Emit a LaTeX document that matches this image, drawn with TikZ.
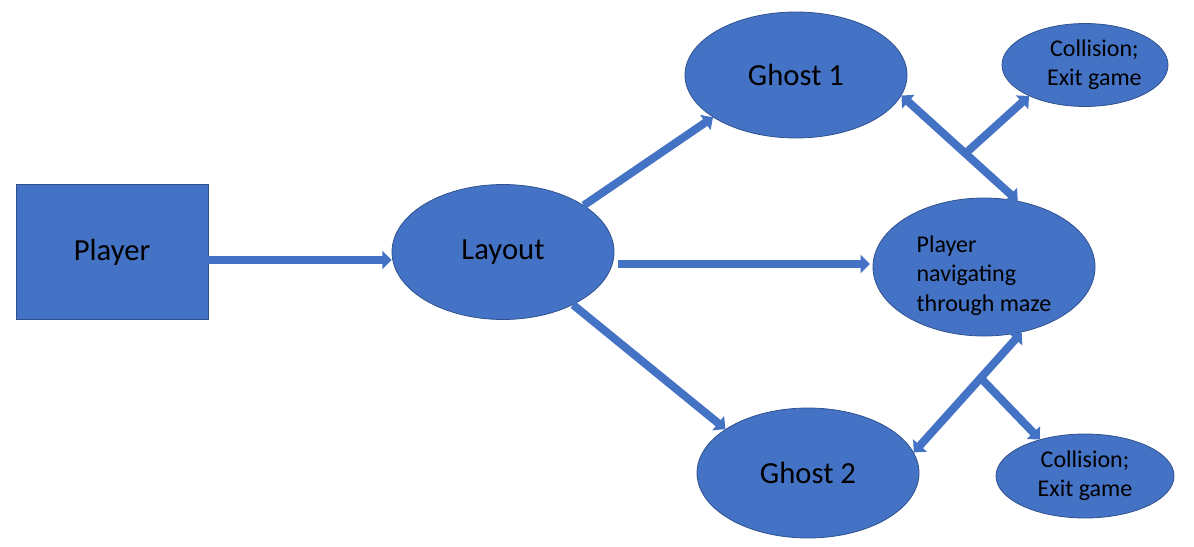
\documentclass[tikz,border=0pt]{standalone}
\usepackage{fontspec}
\setmainfont{Carlito}
\usetikzlibrary{shapes.geometric,arrows.meta}
\definecolor{boxblue}{HTML}{4472C4}
\definecolor{lineblue}{HTML}{2F528F}
\tikzset{
    block/.style={
           rectangle,
           draw=lineblue, fill=boxblue, line width=0.6pt,
           minimum width=144pt,
           minimum height=101.25pt,
           inner sep=0pt,
           font=\fontsize{23}{28}\selectfont
           },
    blob/.style={
           ellipse,
           draw=lineblue, fill=boxblue, line width=0.6pt,
           inner sep=0pt,
           text centered,
           anchor=center,
           font=\fontsize{23}{28}\selectfont
           },
    smallblob/.style={
           blob,
           font=\fontsize{18}{22}\selectfont
           },
    pipe/.style={
           boxblue,
           line width=6pt
           },
}

\begin{document}
\begin{tikzpicture}[x=0.75pt,y=-0.75pt,>={Triangle[width=13.5pt,length=7pt]}]
             \useasboundingbox (0,0) rectangle (1194,546);

             \node[block] (PLAYER) at (112,252) {Player};

             \node[blob,
              minimum width=166.5pt, minimum height=101.25pt,
              right of=PLAYER,
              node distance=293.25pt] (LAYOUT)
             {Layout};

             \node[blob,
              minimum width=166.5pt, minimum height=94.5pt,
              right of=LAYOUT,
              node distance=219.75pt,
              yshift=132.75pt] (GHOSTA)
             {Ghost 1};

             \node[smallblob,
              minimum width=166.5pt, minimum height=103.5pt,
              right of=LAYOUT,
              node distance=360.75pt,
              yshift=-11.25pt] (MAZE)
             {%
             \raisebox{-11pt}[0pt][0pt]{\begin{tabular}{@{}l@{}}
              Player\\
              navigating\\
              through maze
             \end{tabular}}%
             };

             \node[blob,
              minimum width=166.5pt, minimum height=97.5pt,
              right of=LAYOUT,
              node distance=228.75pt,
              yshift=-165.75pt] (GHOSTB)
             {Ghost 2};

             % collision outcomes
             \node[smallblob,
              minimum width=124.5pt, minimum height=61.5pt,
              right of=GHOSTA,
              node distance=216.75pt,
              yshift=7.5pt] (HITA)
             {%
             \makebox[0pt]{\hspace*{14pt}\begin{tabular}{c}
              Collision;\\
              Exit game
             \end{tabular}}%
             };

             \node[smallblob,
              minimum width=133.5pt, minimum height=63pt,
              right of=GHOSTB,
              node distance=207.75pt,
              yshift=-2.25pt] (HITB)
             {%
             \begin{tabular}{c}
              Collision;\\
              Exit game
             \end{tabular}
             };

             \draw[pipe,->] ([yshift=-6pt]PLAYER.east) -- ([yshift=-6pt]LAYOUT.west);
             \draw[pipe,->] (LAYOUT.30) -- (GHOSTA.207);
             \draw[pipe,->] ([xshift=3pt,yshift=-9pt]LAYOUT.east) -- ([xshift=-2pt,yshift=2.25pt]MAZE.west);
             \draw[pipe,->] (LAYOUT.-37) -- (GHOSTB.152);

             \draw[pipe,<->] (GHOSTA.-11) -- coordinate[pos=0.55] (forkA) (MAZE.63);
             \draw[pipe,->] (forkA) -- (HITA.209);
             \draw[pipe,<->] (MAZE.-60) -- coordinate[pos=0.38] (forkB) (GHOSTB.11);
             \draw[pipe,->] (forkB) -- (HITB.141);

\end{tikzpicture}
\end{document}
